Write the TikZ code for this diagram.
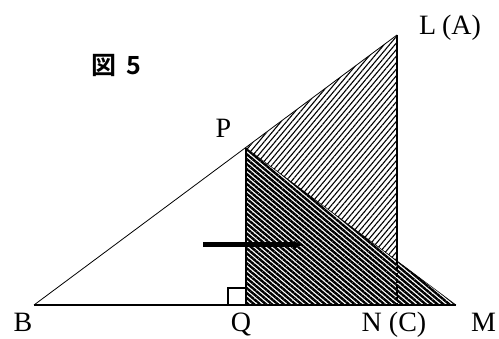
\documentclass[tikz,border=0pt]{standalone}
\usepackage{fontspec}
\setmainfont{Liberation Serif}
\newfontfamily\jpfont{Noto Sans CJK JP}[BoldFont=* Bold]
\usetikzlibrary{patterns.meta,arrows.meta}
\begin{document}
\begin{tikzpicture}[x=1pt,y=-1pt,
  lbl/.style={font=\fontsize{28}{30}\selectfont, anchor=base, inner sep=0pt},
  thinline/.style={line width=0.8pt},
  thickline/.style={line width=2pt},
  darkhatch/.style={pattern={Lines[angle=-40,distance=3.8pt,line width=2.4pt]}, pattern color=black},
  lighthatch/.style={pattern={Lines[angle=50,distance=4.2pt,line width=1.1pt]}, pattern color=black}]
\useasboundingbox (0,0) rectangle (499,339);
\coordinate (B) at (34,305);
\coordinate (Q) at (246,305);
\coordinate (P) at (246,148);
\coordinate (L) at (397,35);
\coordinate (N) at (397,305);
\coordinate (M) at (456,305);
\coordinate (X) at (397,260.9);
\coordinate (A1) at (203,245);
\coordinate (A2) at (302,245);
% hatched regions
\fill[lighthatch] (P) -- (L) -- (X) -- cycle;
\fill[darkhatch] (P) -- (Q) -- (M) -- cycle;
% lines
\draw[thinline] (B) -- (L);
\draw[line width=0.5pt] (P) -- (M);
\draw[thickline] (B) -- (M);
\draw[thickline] (P) -- (Q);
\draw[thickline] (L) -- (X);
\draw[thickline, dashed, dash pattern=on 4pt off 2pt] (X) -- (N);
\draw[line width=1.5pt] (228,305) -- (228,288) -- (246,288);
% arrow
\draw[line width=5pt, -{Latex[length=8pt,width=9pt]}] (A1) -- (A2);
% labels
\node[lbl] (lB) at (23,332) {B};
\node[lbl] (lQ) at (241,332) {Q};
\node[lbl] (lN) at (394,332) {N\hspace{7pt}(C)};
\node[lbl] (lM) at (483.5,332) {M};
\node[lbl] (lP) at (223.5,138) {P};
\node[lbl] (lL) at (450,35) {L\hspace{6pt}(A)};
\node[anchor=base, inner sep=0pt, font=\jpfont\bfseries\fontsize{25}{27}\selectfont] (fig) at (116,75) {図\hspace{10pt}5};
\end{tikzpicture}
\end{document}
